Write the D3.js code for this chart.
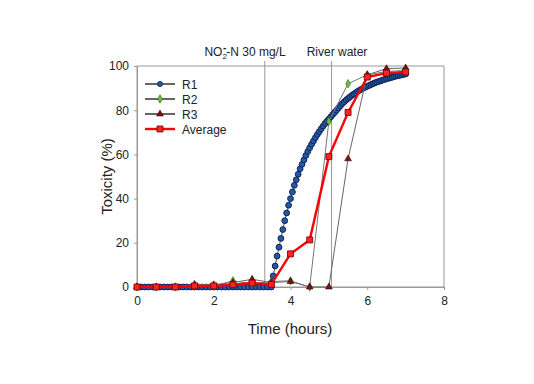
<!DOCTYPE html>
<html>
<head>
<meta charset="utf-8">
<script src="https://cdn.jsdelivr.net/npm/d3@7"></script>
<style>
  body { margin: 0; background: #fff; }
  text { font-family: "Liberation Sans", Arial, sans-serif; fill: #222; }
</style>
</head>
<body>
<div id="chart"></div>
<script>
// R1 is sampled densely (continuous monitor), others every 0.5 h
const r1Data = [
  [0, 0], [0.1, 0], [0.2, 0], [0.3, 0], [0.4, 0], [0.5, 0], [0.6, 0], [0.7, 0], [0.8, 0], [0.9, 0],
  [1.0, 0], [1.1, 0], [1.2, 0], [1.3, 0], [1.4, 0], [1.5, 0], [1.6, 0], [1.7, 0], [1.8, 0], [1.9, 0],
  [2.0, 0], [2.1, 0], [2.2, 0], [2.3, 0], [2.4, 0], [2.5, 0], [2.6, 0], [2.7, 0], [2.8, 0], [2.9, 0],
  [3.0, 0], [3.1, 0], [3.2, 0], [3.3, 0], [3.4, 0], [3.5, 0],
  [3.55, 5], [3.6, 9.5], [3.65, 14], [3.7, 18], [3.75, 22], [3.8, 26], [3.85, 30], [3.9, 33.5],
  [3.95, 37], [4.0, 40], [4.05, 43], [4.1, 46], [4.15, 48.5], [4.2, 51], [4.25, 53.5], [4.3, 55.5],
  [4.35, 57.5], [4.4, 59.5], [4.45, 61.3], [4.5, 63], [4.55, 64.6], [4.6, 66.1], [4.65, 67.6],
  [4.7, 69], [4.75, 70.3], [4.8, 71.6], [4.85, 72.8], [4.9, 74], [4.95, 75], [5.0, 76], [5.05, 77],
  [5.1, 78], [5.15, 79], [5.2, 80], [5.25, 81], [5.3, 82], [5.35, 83], [5.4, 83.8], [5.45, 84.6],
  [5.5, 85.3], [5.55, 86], [5.6, 86.7], [5.65, 87.3], [5.7, 87.9], [5.75, 88.5], [5.8, 89],
  [5.85, 89.5], [5.9, 90], [5.95, 90.4], [6.0, 90.8], [6.05, 91.2], [6.1, 91.6], [6.15, 92],
  [6.2, 92.4], [6.25, 92.7], [6.3, 93], [6.35, 93.3], [6.4, 93.6], [6.45, 93.9], [6.5, 94.2],
  [6.55, 94.4], [6.6, 94.7], [6.65, 94.9], [6.7, 95.2], [6.75, 95.4], [6.8, 95.6], [6.85, 95.8],
  [6.9, 96], [6.95, 96.2], [7.0, 96.4]
];

const hours = [0, 0.5, 1, 1.5, 2, 2.5, 3, 3.5, 4, 4.5, 5, 5.5, 6, 6.5, 7];
const r2Values = [0, 0, 0, 0.5, 0.5, 2.8, 1.5, 2.5, 2.8, 0, 75, 92, 96, 97.5, 98];
const r3Values = [0, 0, 0, 1.2, 1, 2, 3.5, 2, 2.5, 0, 0, 58, 96, 98.8, 99.1];
const avgValues = [0, 0, 0, 0.5, 0.5, 1, 1.8, 1.2, 15, 21.3, 59, 79, 95, 96.8, 97.3];

const xTicks = [0, 2, 4, 6, 8];
const yTicks = [0, 20, 40, 60, 80, 100];
const eventTimes = [3.33, 5.07];
const legendNames = ["R1", "R2", "R3", "Average"];

const width = 534, height = 384;
const svg = d3.select("#chart").append("svg")
  .attr("width", width).attr("height", height);

const x = d3.scaleLinear().domain([0, 8]).range([137, 444]);
const y = d3.scaleLinear().domain([0, 100]).range([287, 66]);

// plot frame
svg.append("rect")
  .attr("x", x(0)).attr("y", y(100))
  .attr("width", x(8) - x(0)).attr("height", y(0) - y(100))
  .attr("fill", "none").attr("stroke", "#999").attr("stroke-width", 1);

// event lines
svg.selectAll(".event")
  .data(eventTimes)
  .join("line")
  .attr("x1", (d) => x(d)).attr("x2", (d) => x(d))
  .attr("y1", 61).attr("y2", y(0))
  .attr("stroke", "#999").attr("stroke-width", 1);

// annotation texts
const no2 = svg.append("text")
  .attr("x", 245).attr("y", 56)
  .attr("text-anchor", "middle")
  .attr("font-size", 12);
no2.append("tspan").text("NO");
no2.append("tspan").attr("font-size", 8).attr("dy", 3).text("2");
no2.append("tspan").attr("font-size", 10).attr("font-weight", "bold").attr("dx", -4).attr("dy", -8).text("-");
no2.append("tspan").attr("dy", 5).text("-N 30 mg/L");

svg.append("text")
  .attr("x", 337).attr("y", 56)
  .attr("text-anchor", "middle")
  .attr("font-size", 12)
  .text("River water");

// axes
const xAxis = svg.append("g")
  .attr("transform", `translate(0,${y(0)})`)
  .call(d3.axisBottom(x).tickValues(xTicks).tickSize(3).tickPadding(6));
const yAxis = svg.append("g")
  .attr("transform", `translate(${x(0)},0)`)
  .call(d3.axisLeft(y).tickValues(yTicks).tickSize(3).tickPadding(5));
[xAxis, yAxis].forEach((g) => {
  g.select(".domain").attr("stroke", "#999");
  g.selectAll(".tick line").attr("stroke", "#999");
  g.selectAll(".tick text")
    .attr("font-size", 12)
    .attr("font-family", "Liberation Sans, Arial, sans-serif")
    .attr("fill", "#222");
});

svg.append("text")
  .attr("x", 290).attr("y", 334)
  .attr("text-anchor", "middle")
  .attr("font-size", 15)
  .text("Time (hours)");

svg.append("text")
  .attr("transform", `translate(112,${(y(0) + y(100)) / 2}) rotate(-90)`)
  .attr("text-anchor", "middle")
  .attr("font-size", 15)
  .text("Toxicity (%)");

const line = d3.line().x((d) => x(d[0])).y((d) => y(d[1]));
const zip = (vals) => hours.map((h, i) => [h, vals[i]]);

const r2Data = zip(r2Values);
const r3Data = zip(r3Values);
const avgData = zip(avgValues);

const diamond = d3.symbol().type(d3.symbolDiamond).size(20);
const triangle = d3.symbol().type(d3.symbolTriangle).size(20);
const square = d3.symbol().type(d3.symbolSquare).size(36);

// R1
svg.append("path").datum(r1Data)
  .attr("d", line).attr("fill", "none")
  .attr("stroke", "#555").attr("stroke-width", 1);
svg.append("g").selectAll("circle")
  .data(r1Data)
  .join("circle")
  .attr("cx", (d) => x(d[0])).attr("cy", (d) => y(d[1]))
  .attr("r", 2.9)
  .attr("fill", "#2458a8").attr("stroke", "#0c2452").attr("stroke-width", 1);

// R2 and R3
svg.append("path").datum(r3Data)
  .attr("d", line).attr("fill", "none")
  .attr("stroke", "#666").attr("stroke-width", 1);
svg.append("path").datum(r2Data)
  .attr("d", line).attr("fill", "none")
  .attr("stroke", "#777").attr("stroke-width", 1);
svg.append("g").selectAll("path")
  .data(r2Data)
  .join("path")
  .attr("transform", (d) => `translate(${x(d[0])},${y(d[1])})`)
  .attr("d", diamond)
  .attr("fill", "#6fbf3a").attr("stroke", "#2f5a1a").attr("stroke-width", 0.6);
svg.append("g").selectAll("path")
  .data(r3Data)
  .join("path")
  .attr("transform", (d) => `translate(${x(d[0])},${y(d[1])})`)
  .attr("d", triangle)
  .attr("fill", "#7a1212").attr("stroke", "#3a0505").attr("stroke-width", 0.6);

// Average
svg.append("path").datum(avgData)
  .attr("d", line).attr("fill", "none")
  .attr("stroke", "#f00").attr("stroke-width", 2.4);
svg.append("g").selectAll("path")
  .data(avgData)
  .join("path")
  .attr("transform", (d) => `translate(${x(d[0])},${y(d[1])})`)
  .attr("d", square)
  .attr("fill", "#f22").attr("stroke", "#6a0000").attr("stroke-width", 0.8);

// legend
const legendStyles = [
  { stroke: "#666", w: 2, mark: (g) => g.append("circle").attr("r", 2.6).attr("fill", "#2458a8").attr("stroke", "#0c2452").attr("stroke-width", 0.8) },
  { stroke: "#666", w: 2, mark: (g) => g.append("path").attr("d", diamond).attr("fill", "#6fbf3a").attr("stroke", "#2f5a1a").attr("stroke-width", 0.6) },
  { stroke: "#666", w: 2, mark: (g) => g.append("path").attr("d", triangle).attr("fill", "#7a1212").attr("stroke", "#3a0505").attr("stroke-width", 0.6) },
  { stroke: "#f00", w: 2.4, mark: (g) => g.append("path").attr("d", square).attr("fill", "#f22").attr("stroke", "#6a0000").attr("stroke-width", 0.8) }
];
const legend = svg.append("g").attr("transform", "translate(145,84)");
legendNames.forEach((name, i) => {
  const row = legend.append("g").attr("transform", `translate(0,${i * 15})`);
  row.append("line").attr("x1", 0).attr("x2", 30)
    .attr("stroke", legendStyles[i].stroke).attr("stroke-width", legendStyles[i].w);
  legendStyles[i].mark(row.append("g").attr("transform", "translate(15,0)"));
  row.append("text").attr("x", 37).attr("y", 4.5)
    .attr("font-size", 12).text(name);
});
</script>
</body>
</html>
